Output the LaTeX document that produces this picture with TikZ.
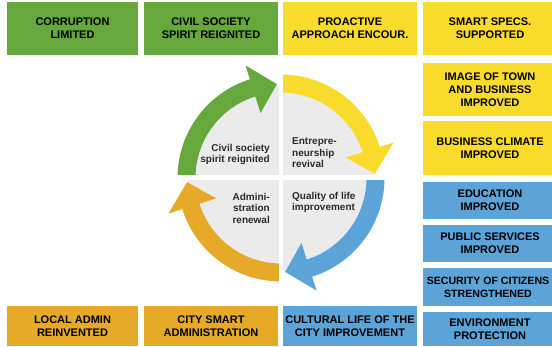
\documentclass[tikz,border=0pt]{standalone}
\usepackage{fontspec}
\setmainfont{Liberation Sans}
\usetikzlibrary{calc}
\definecolor{cgreen}{HTML}{66A83B}
\definecolor{cyellow}{HTML}{F9DB2C}
\definecolor{cblue}{HTML}{5CA4D8}
\definecolor{corange}{HTML}{E7AA28}
\definecolor{cgray}{HTML}{EBEBEB}
\definecolor{ctext}{HTML}{2B2B2B}
\newcommand\cycarrow[2]{%
  \fill[#2] (#1:103.5) arc[start angle=#1, end angle=#1-72.5, radius=103.5]
    -- (#1-72.5:118) -- (#1-87.5:94) -- (#1-72.5:68) -- (#1-72.5:85.5)
    arc[start angle=#1-72.5, end angle=#1, radius=85.5] -- cycle;}
\begin{document}
\begin{tikzpicture}[x=1pt,y=1pt,
  box/.style={inner sep=0pt, align=center, text=black,
    font=\bfseries\fontsize{11}{13}\selectfont},
  wbox/.style={box, minimum width=131pt},
  nbox/.style={box, minimum width=134pt},
  lbl/.style={inner sep=0pt, text=ctext, font=\bfseries\fontsize{10}{11.5}\selectfont}]
\useasboundingbox (0,0) rectangle (552,346);
\clip (0,0) rectangle (552,346);

% central cycle
\coordinate (C) at (281,168);
\fill[cgray] (C) circle[radius=93];
\begin{scope}[shift={(C)}]
  \cycarrow{180}{cgreen}
  \cycarrow{90}{cyellow}
  \cycarrow{0}{cblue}
  \cycarrow{-90}{corange}
\end{scope}
\fill[white] ($(C)+(-2,-122)$) rectangle ($(C)+(2,122)$);
\fill[white] ($(C)+(-122,-2.5)$) rectangle ($(C)+(122,2.5)$);

\node[lbl, anchor=east, align=right] (tl) at (270,191.5) {Civil society\\spirit reignited};
\node[lbl, anchor=west, align=left] (tr) at (292,193) {Entrepre-\\neurship\\revival};
\node[lbl, anchor=east, align=right] (bl) at (270,138) {Admini-\\stration\\renewal};
\node[lbl, anchor=west, align=left] (br) at (292,143.5) {Quality of life\\improvement};

% top row
\node[wbox, fill=cgreen, minimum height=53pt] (corr) at (72.5,317.5) {CORRUPTION\\LIMITED};
\node[nbox, fill=cgreen, minimum height=53pt] (civil) at (211,317.5) {CIVIL SOCIETY\\SPIRIT REIGNITED};
\node[nbox, fill=cyellow, minimum height=53pt] (proac) at (350,317.5) {PROACTIVE\\APPROACH ENCOUR.};
\node[nbox, fill=cyellow, minimum height=53pt] (smart) at (490,317.5) {SMART SPECS.\\SUPPORTED};

% right column
\node[nbox, fill=cyellow, minimum height=53pt] (image) at (490,256.5) {IMAGE OF TOWN\\AND BUSINESS\\IMPROVED};
\node[nbox, fill=cyellow, minimum height=54pt] (climate) at (490,198) {BUSINESS CLIMATE\\IMPROVED};
\node[nbox, fill=cblue, minimum height=37pt] (edu) at (490,145.5) {EDUCATION\\IMPROVED};
\node[nbox, fill=cblue, minimum height=37pt] (pub) at (490,102.5) {PUBLIC SERVICES\\IMPROVED};
\node[nbox, fill=cblue, minimum height=38pt] (sec) at (490,59) {};
\node[box, font=\bfseries\fontsize{10.6}{13}\selectfont] (sectext) at (488,59) {SECURITY OF CITIZENS\\STRENGTHENED};
\node[nbox, fill=cblue, minimum height=34pt] (env) at (490,17) {ENVIRONMENT\\PROTECTION};

% bottom row
\node[wbox, fill=corange, minimum height=40pt] (local) at (72.5,20) {LOCAL ADMIN\\REINVENTED};
\node[nbox, fill=corange, minimum height=40pt] (citysmart) at (211,20) {CITY SMART\\ADMINISTRATION};
\node[nbox, fill=cblue, minimum height=40pt] (cultural) at (350,20) {CULTURAL LIFE OF THE\\CITY IMPROVEMENT};
\end{tikzpicture}
\end{document}
